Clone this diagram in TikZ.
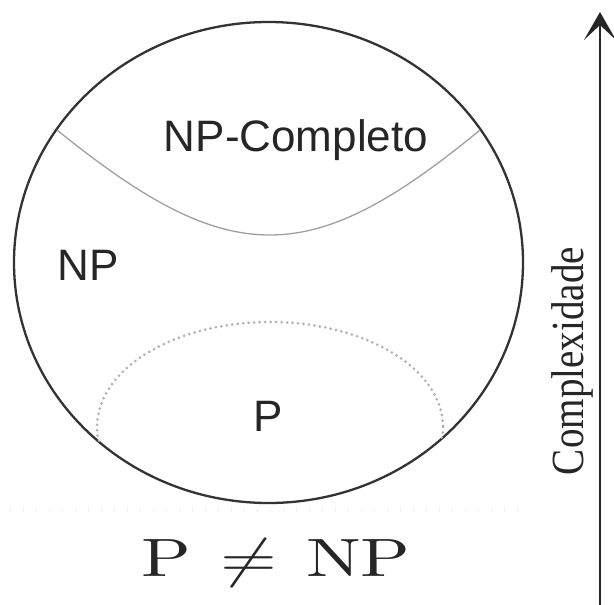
\documentclass[tikz,border=0pt]{standalone}
\usepackage{fontspec}
\usepackage{graphicx}
\usepackage{tikz}
\usetikzlibrary{arrows.meta}
\newfontfamily\sanslabel{Liberation Sans}
\newfontfamily\seriflabel{Liberation Serif}

\begin{document}
\begin{tikzpicture}[x=1pt, y=-1pt,
    every node/.style={inner sep=0pt, text=black!85},
    setlabel/.style={font=\sanslabel\fontsize{44}{44}\selectfont, anchor=base},
    setline/.style={line width=2.3pt, black!80}]
  \useasboundingbox (0,0) rectangle (614,605);
  \draw[setline] (268.5,262.5) ellipse [x radius=254.5, y radius=240.5];
  \draw[gray!75, line width=1.3pt] (57,130) .. controls (230,270) and (310,270) .. (480,130);
  \begin{scope}
    \clip (268.5,262.5) ellipse [x radius=254.5, y radius=240.5];
    \draw[gray!60, line width=3pt, line cap=round, dash pattern=on 0pt off 5.5pt] (270,427) ellipse [x radius=173, y radius=105];
  \end{scope}
  \draw[gray!40, line width=1pt, dash pattern=on 1pt off 12pt] (10,510) -- (526,510);
  \node[setlabel] (npc) at (296,151) {NP-Completo};
  \node[setlabel] (np) at (88,280) {NP};
  \node[setlabel] (p) at (268,431) {P};
  \node[anchor=base, font=\fontsize{10}{10}\selectfont] (neq) at (276,576)
    {\scalebox{7.3}[5.4]{P\hspace{0.4em}$\neq$\hspace{0.4em}NP}};
  \coordinate (low) at (600,605);
  \coordinate (high) at (600,12);
  \draw[line width=2.8pt, black!85, -{Stealth[length=28pt, width=32pt, inset=15pt]}] (low) -- (high);
  \node[rotate=90, anchor=base, font=\seriflabel\fontsize{46}{46}\selectfont] (complex) at (583,361)
    {\scalebox{0.85}[1]{Complexidade}};
\end{tikzpicture}
\end{document}
